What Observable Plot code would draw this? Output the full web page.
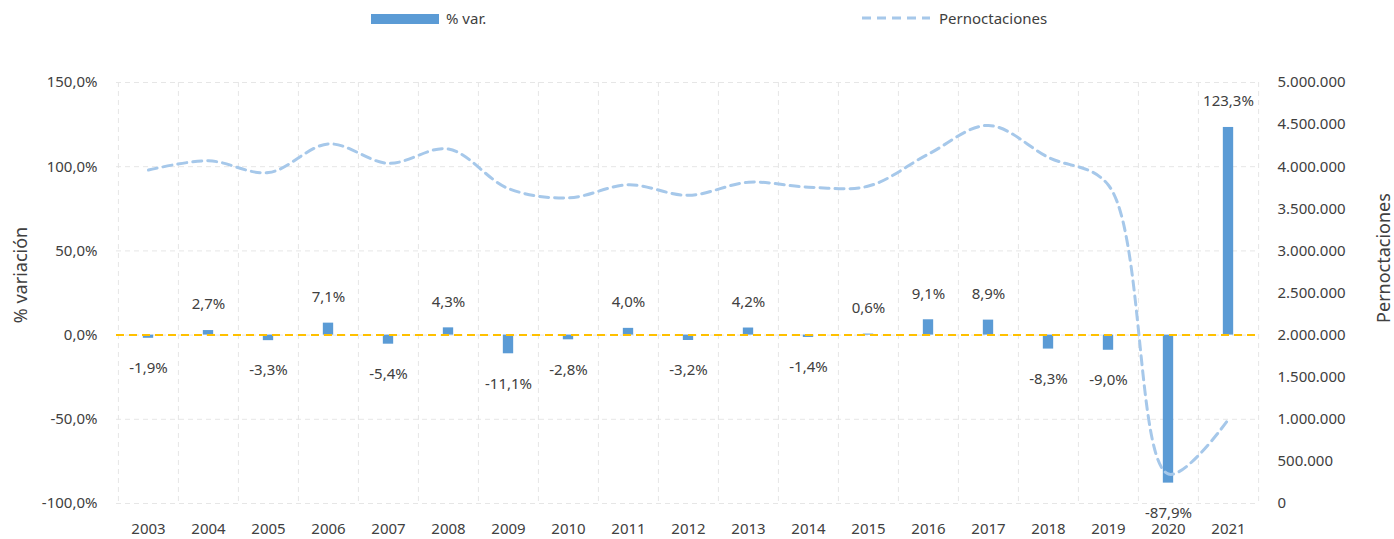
<!DOCTYPE html>
<html><head><meta charset="utf-8">
<script src="https://cdn.jsdelivr.net/npm/d3@7"></script>
<script src="https://cdn.jsdelivr.net/npm/@observablehq/plot@0.6"></script>
<style>
body{margin:0;background:#fff;font-family:"Noto Sans",sans-serif;}
#legend{position:relative;height:40px;width:1394px;font-size:15px;color:#404040;}
#legend .sw{position:absolute;}
#legend .lt{position:absolute;top:7px;line-height:22px;}
</style></head><body>
<div id="legend">
  <div class="sw" style="left:371px;top:14px;width:68px;height:10px;background:#5B9BD5"></div>
  <div class="lt" style="left:446px">% var.</div>
  <svg class="sw" style="left:862px;top:13px" width="70" height="10"><line x1="0" y1="5" x2="68" y2="5" stroke="#A6C8EA" stroke-width="3" stroke-dasharray="9,6"/></svg>
  <div class="lt" style="left:939px">Pernoctaciones</div>
</div>
<div id="chart"></div>
<script>
const years = ["2003","2004","2005","2006","2007","2008","2009","2010","2011","2012","2013","2014","2015","2016","2017","2018","2019","2020","2021"];
const varPct = [-1.9, 2.7, -3.3, 7.1, -5.4, 4.3, -11.1, -2.8, 4.0, -3.2, 4.2, -1.4, 0.6, 9.1, 8.9, -8.3, -9.0, -87.9, 123.3];
const pernoctaciones = [3960000, 4070000, 3930000, 4270000, 4040000, 4210000, 3740000, 3630000, 3785000, 3660000, 3815000, 3757000, 3770000, 4150000, 4490000, 4110000, 3780000, 350000, 1000000];
const leftTicks = [-100, -50, 0, 50, 100, 150];
const rightTicks = [0, 500000, 1000000, 1500000, 2000000, 2500000, 3000000, 3500000, 4000000, 4500000, 5000000];

const locale = d3.formatLocale({decimal: ",", thousands: ".", grouping: [3], currency: ["", "€"], minus: "-"});
const f1 = locale.format(".1f");
const fInt = locale.format(",d");
const fmtPct = v => f1(v) + "%";
const RMAX = 5000000, LMIN = -100, LMAX = 150;
const toY = v => v / RMAX * (LMAX - LMIN) + LMIN;
const fromY = t => (t - LMIN) / (LMAX - LMIN) * RMAX;

const data = years.map((y, i) => ({year: y, v: varPct[i], p: pernoctaciones[i]}));

const W = 1394, H = 499;
const mL = 116, mR = 135, mT = 42, mB = 36;
const bw = (W - mL - mR) / years.length;
const barW = 10.5;
const ins = (bw - barW) / 2;
const grid = "#E6E6E6";
const txt = "#404040";

const chart = Plot.plot({
  width: W, height: H,
  marginLeft: mL, marginRight: mR, marginTop: mT, marginBottom: mB,
  style: {fontSize: "15px", fontFamily: '"Noto Sans", sans-serif', color: txt, background: "#fff"},
  x: {type: "band", domain: years, padding: 0, axis: null},
  y: {domain: [LMIN, LMAX], axis: null},
  marks: [
    Plot.ruleY(leftTicks, {stroke: grid, strokeWidth: 1, strokeDasharray: "5,4"}),
    Plot.ruleX(years, {x: d => d, dx: -bw / 2, stroke: grid, strokeWidth: 1, strokeDasharray: "5,4"}),
    Plot.ruleX([years[years.length - 1]], {x: d => d, dx: bw / 2, stroke: grid, strokeWidth: 1, strokeDasharray: "5,4"}),
    Plot.barY(data, {x: "year", y: "v", fill: "#5B9BD5", insetLeft: ins, insetRight: ins}),
    Plot.ruleY([0], {stroke: "#FFC000", strokeWidth: 2, strokeDasharray: "8,5"}),
    Plot.line(data, {x: "year", y: d => toY(d.p), stroke: "#A6C8EA", strokeWidth: 3, strokeDasharray: "9,6", curve: "catmull-rom"}),
    Plot.text(data.filter(d => d.v >= 0), {x: "year", y: "v", text: d => fmtPct(d.v), dy: -26, fill: txt}),
    Plot.text(data.filter(d => d.v < 0), {x: "year", y: "v", text: d => fmtPct(d.v), dy: 30, fill: txt}),
    Plot.axisY(leftTicks, {anchor: "left", tickSize: 0, tickPadding: 19, tickFormat: fmtPct, label: null, fill: txt}),
    Plot.axisY(rightTicks.map(toY), {anchor: "right", tickSize: 0, tickPadding: 18, tickFormat: t => fInt(Math.round(fromY(t))), label: null, fill: txt}),
    Plot.axisX({tickSize: 0, tickPadding: 20, label: null, fill: txt}),
    Plot.text(["% variación"], {text: d => d, frameAnchor: "left", textAnchor: "middle", rotate: -90, dx: -95, dy: -18, fontSize: 18, fill: txt}),
    Plot.text(["Pernoctaciones"], {text: d => d, frameAnchor: "right", textAnchor: "middle", rotate: -90, dx: 125, dy: -35, fontSize: 18, fill: txt})
  ]
});
document.getElementById("chart").appendChild(chart);
</script>
</body></html>
